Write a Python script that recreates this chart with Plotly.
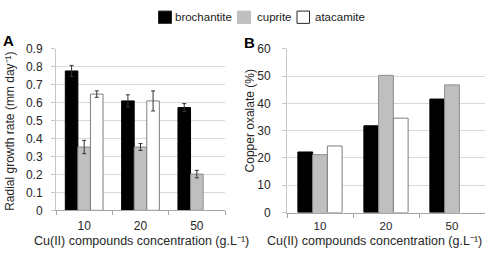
import plotly.graph_objects as go

W, H = 490, 258

categories = ["10", "20", "50"]
series = ["brochantite", "cuprite", "atacamite"]

# Panel A: radial growth rate (mm day-1)
growth_broch = [0.777, 0.61, 0.573]
growth_broch_err = [0.031, 0.034, 0.022]
growth_cup = [0.353, 0.353, 0.202]
growth_cup_err = [0.037, 0.019, 0.021]
growth_atac = [0.648, 0.61, None]
growth_atac_err = [0.018, 0.056, 0]

# Panel B: copper oxalate (%)
oxal_broch = [22.2, 31.8, 41.6]
oxal_cup = [21.2, 50.3, 46.8]
oxal_atac = [24.4, 34.6, None]

fills = {"brochantite": "#000000", "cuprite": "#bfbfbf", "atacamite": "#ffffff"}
lines = {"brochantite": "#000000", "cuprite": "#8c8c8c", "atacamite": "#7f7f7f"}

FONT = "Liberation Sans"
TXT = "#262626"

def px(x):
    return x / W

def py(y):
    return 1 - y / H

fig = go.Figure()

growth = {"brochantite": (growth_broch, growth_broch_err),
          "cuprite": (growth_cup, growth_cup_err),
          "atacamite": (growth_atac, growth_atac_err)}
oxal = {"brochantite": oxal_broch, "cuprite": oxal_cup, "atacamite": oxal_atac}

for s in series:
    vals, errs = growth[s]
    fig.add_trace(go.Bar(
        x=categories, y=vals, name=s, xaxis="x", yaxis="y",
        marker=dict(color=fills[s], line=dict(color=lines[s], width=1)),
        error_y=dict(type="data", array=errs, visible=True, color="#333333",
                     thickness=1, width=2),
        showlegend=False))

for s in series:
    fig.add_trace(go.Bar(
        x=categories, y=oxal[s], name=s, xaxis="x2", yaxis="y2",
        marker=dict(color=fills[s], line=dict(color=lines[s], width=1)),
        showlegend=False))

xcommon = dict(type="category", showgrid=False, showline=True, linecolor="#a6a6a6",
               linewidth=1, ticks="outside", ticklen=4, tickcolor="#a6a6a6",
               tickson="boundaries", fixedrange=True)
ycommon = dict(showgrid=True, gridcolor="#d9d9d9", gridwidth=1, showline=True,
               linecolor="#c8c8c8", linewidth=1, ticks="outside", ticklen=4,
               tickcolor="#c8c8c8", tickfont=dict(size=12, color=TXT, family=FONT),
               zeroline=False, fixedrange=True)

fig.update_layout(
    width=W, height=H, margin=dict(l=0, r=0, t=0, b=0),
    paper_bgcolor="white", plot_bgcolor="white",
    barmode="group", bargap=0.33, bargroupgap=0,
    font=dict(family=FONT, color=TXT, size=11),
    xaxis=dict(domain=[px(56), px(225)], anchor="y", ticklabelstandoff=4,
               tickfont=dict(size=12, color=TXT, family=FONT), **xcommon),
    yaxis=dict(domain=[py(215), py(44.3)], anchor="x", range=[0, 0.9], dtick=0.1,
               ticklabelstandoff=6, **ycommon),
    xaxis2=dict(domain=[px(287), px(485)], anchor="y2", ticklabelstandoff=3,
                tickfont=dict(size=11.5, color=TXT, family=FONT), **xcommon),
    yaxis2=dict(domain=[py(217.3), py(44.3)], anchor="x2", range=[0, 60], dtick=10,
                ticklabelstandoff=9, **ycommon),
)

# Legend (manual, to mimic the original spacing)
leg = [("brochantite", 158.5, 171.5, 172.5),
       ("cuprite", 237.5, 250.5, 255.0),
       ("atacamite", 297.0, 309.5, 312.5)]
for name, x0, x1, tx in leg:
    fig.add_shape(type="rect", xref="paper", yref="paper",
                  x0=px(x0), x1=px(x1), y0=py(17.3), y1=py(4.3),
                  fillcolor=fills[name],
                  line=dict(color="#262626" if name != "cuprite" else "#bfbfbf", width=1))
    fig.add_annotation(x=px(tx), y=py(10.8), xref="paper", yref="paper", text=name,
                       showarrow=False, xanchor="left", yanchor="middle",
                       font=dict(size=11.5, color="#1a1a1a", family=FONT))

# Panel letters
fig.add_annotation(x=px(8.3), y=py(35), xref="paper", yref="paper", text="<b>A</b>",
                   showarrow=False, xanchor="center", yanchor="middle",
                   font=dict(size=15, color="#000000", family=FONT))
fig.add_annotation(x=px(249), y=py(37.5), xref="paper", yref="paper", text="<b>B</b>",
                   showarrow=False, xanchor="center", yanchor="middle",
                   font=dict(size=15, color="#000000", family=FONT))

# Axis titles
xtitle = "Cu(II) compounds concentration (g.L⁻¹)"
fig.add_annotation(x=px(31.5), y=py(247), xref="paper", yref="paper", text=xtitle,
                   showarrow=False, xanchor="left", yanchor="middle",
                   font=dict(size=12.5, color=TXT, family=FONT))
fig.add_annotation(x=px(483.5), y=py(247), xref="paper", yref="paper", text=xtitle,
                   showarrow=False, xanchor="right", yanchor="middle",
                   font=dict(size=12.5, color=TXT, family=FONT))
fig.add_annotation(x=px(10), y=py(132), xref="paper", yref="paper",
                   text="Radial growth rate (mm day⁻¹)", textangle=-90,
                   showarrow=False, xanchor="center", yanchor="middle",
                   font=dict(size=12, color=TXT, family=FONT))
fig.add_annotation(x=px(250), y=py(121), xref="paper", yref="paper",
                   text="Copper oxalate (%)", textangle=-90,
                   showarrow=False, xanchor="center", yanchor="middle",
                   font=dict(size=12, color=TXT, family=FONT))

fig.write_html("out.html",
               config={"displayModeBar": False},
               post_script="document.body.style.margin='0';document.body.style.padding='0';")
